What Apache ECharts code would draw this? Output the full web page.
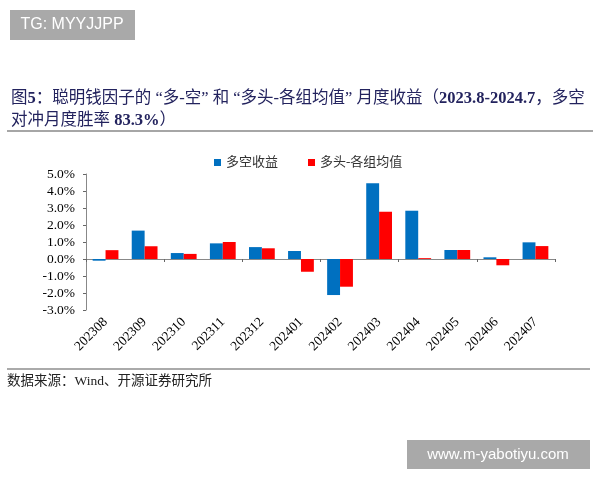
<!DOCTYPE html>
<html>
<head>
    <meta charset="utf-8">
    <script src="https://cdn.jsdelivr.net/npm/echarts@6/dist/echarts.min.js"></script>
    <style>
        html, body { margin: 0; padding: 0; background: #fff; }
        #main { width: 600px; height: 480px; }
    </style>
</head>
<body>
    <div id="main"></div>
    <script>
        var months = ['202308', '202309', '202310', '202311', '202312', '202401',
            '202402', '202403', '202404', '202405', '202406', '202407'];
        // 多空收益 (%)
        var longShort = [-0.1, 1.67, 0.35, 0.92, 0.7, 0.47, -2.12, 4.45, 2.84, 0.53, 0.1, 0.98];
        // 多头-各组均值 (%)
        var longMinusAvg = [0.52, 0.75, 0.3, 1.0, 0.63, -0.75, -1.63, 2.78, 0.05, 0.53, -0.37, 0.76];
        var yTicks = [-3, -2, -1, 0, 1, 2, 3, 4, 5];

        var serif = "'Liberation Serif', 'Noto Sans CJK SC', serif";
        var chart = echarts.init(document.getElementById('main'));

        var option = {
            backgroundColor: '#fff',
            animation: false,
            title: {
                left: 6,
                top: 83,
                text: '图{b|5}：聪明钱因子的 “多-空” 和 “多头-各组均值” 月度收益（{b|2023.8-2024.7}，多空\n对冲月度胜率 {b|83.3%}）',
                textStyle: {
                    fontFamily: serif,
                    fontSize: 16.5,
                    fontWeight: 'normal',
                    color: '#23235e',
                    lineHeight: 22,
                    rich: {
                        b: { fontFamily: serif, fontSize: 16.5, fontWeight: 'bold', color: '#23235e' }
                    }
                }
            },
            legend: {
                top: 151,
                left: 209,
                itemWidth: 7,
                itemHeight: 7,
                itemGap: 30,
                icon: 'rect',
                textStyle: { fontFamily: serif, fontSize: 13, color: '#333' },
                data: ['多空收益', '多头-各组均值']
            },
            grid: { left: 86, right: 45, top: 174, bottom: 170 },
            xAxis: [
                {
                    type: 'category',
                    data: months,
                    position: 'bottom',
                    axisLine: { show: false, onZero: false },
                    axisTick: { show: false },
                    axisLabel: {
                        rotate: 45,
                        margin: 10,
                        fontFamily: serif,
                        fontSize: 13.5,
                        color: '#000',
                        interval: 0
                    }
                },
                {
                    type: 'category',
                    data: months,
                    axisLine: { show: true, onZero: true, lineStyle: { color: '#888' } },
                    axisTick: { show: true, inside: true, length: 3, lineStyle: { color: '#666' } },
                    axisLabel: { show: false }
                }
            ],
            yAxis: {
                type: 'value',
                min: yTicks[0],
                max: yTicks[yTicks.length - 1],
                interval: 1,
                axisLine: { show: true, lineStyle: { color: '#888' } },
                axisTick: { show: true, length: 3, lineStyle: { color: '#666' } },
                splitLine: { show: false },
                axisLabel: {
                    margin: 11,
                    fontFamily: serif,
                    fontSize: 13.5,
                    color: '#000',
                    formatter: function (v) { return v.toFixed(1) + '%'; }
                }
            },
            series: [
                {
                    name: '多空收益',
                    type: 'bar',
                    xAxisIndex: 0,
                    data: longShort,
                    barGap: '0%',
                    barCategoryGap: '34%',
                    itemStyle: { color: '#0070c0' }
                },
                {
                    name: '多头-各组均值',
                    type: 'bar',
                    xAxisIndex: 0,
                    data: longMinusAvg,
                    itemStyle: { color: '#ff0000' }
                }
            ],
            graphic: [
                {
                    type: 'rect',
                    shape: { x: 10, y: 10, width: 125, height: 30 },
                    style: { fill: '#a9a9a9' }
                },
                {
                    type: 'text',
                    x: 72, y: 25,
                    style: {
                        text: 'TG: MYYJJPP',
                        fill: '#fff',
                        font: '16px "Liberation Sans", sans-serif',
                        align: 'center',
                        verticalAlign: 'middle'
                    }
                },
                {
                    type: 'line',
                    shape: { x1: 7, y1: 131, x2: 593, y2: 131 },
                    style: { stroke: '#888', lineWidth: 1.5 }
                },
                {
                    type: 'line',
                    shape: { x1: 7, y1: 369, x2: 590, y2: 369 },
                    style: { stroke: '#aaa', lineWidth: 2 }
                },
                {
                    type: 'text',
                    x: 7, y: 381,
                    style: {
                        text: '数据来源：Wind、开源证券研究所',
                        fill: '#222',
                        font: '13.5px ' + serif,
                        verticalAlign: 'middle'
                    }
                },
                {
                    type: 'rect',
                    shape: { x: 407, y: 440, width: 183, height: 29 },
                    style: { fill: '#a9a9a9' }
                },
                {
                    type: 'text',
                    x: 498, y: 455,
                    style: {
                        text: 'www.m-yabotiyu.com',
                        fill: '#fff',
                        font: '15px "Liberation Sans", sans-serif',
                        align: 'center',
                        verticalAlign: 'middle'
                    }
                }
            ]
        };

        chart.setOption(option);
    </script>
</body>
</html>
